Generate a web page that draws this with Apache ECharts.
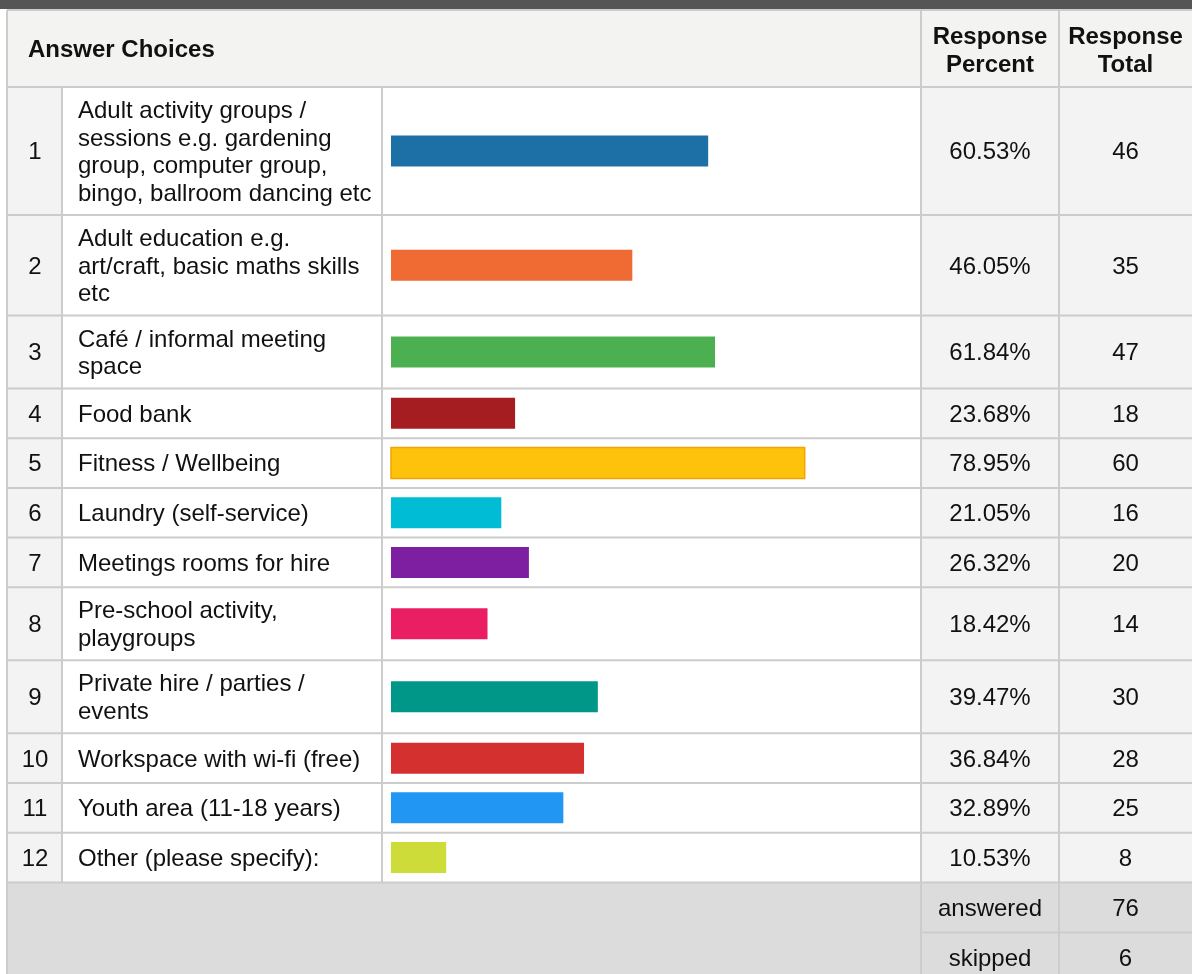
<!DOCTYPE html>
<html>
<head>
<meta charset="utf-8">
<title>Answer Choices</title>
<script src="https://cdn.jsdelivr.net/npm/echarts@6/dist/echarts.min.js"></script>
<style>
  html, body { margin: 0; padding: 0; background: #ffffff; }
  #chart { width: 1192px; height: 974px; }
</style>
</head>
<body>
<div id="chart"></div>
<script>
// ---- data ----
const choices = [
  'Adult activity groups /\nsessions e.g. gardening\ngroup, computer group,\nbingo, ballroom dancing etc',
  'Adult education e.g.\nart/craft, basic maths skills\netc',
  'Café / informal meeting\nspace',
  'Food bank',
  'Fitness / Wellbeing',
  'Laundry (self-service)',
  'Meetings rooms for hire',
  'Pre-school activity,\nplaygroups',
  'Private hire / parties /\nevents',
  'Workspace with wi-fi (free)',
  'Youth area (11-18 years)',
  'Other (please specify):'
];
const responsePercent = [60.53, 46.05, 61.84, 23.68, 78.95, 21.05, 26.32, 18.42, 39.47, 36.84, 32.89, 10.53];
const responseTotal = [46, 35, 47, 18, 60, 16, 20, 14, 30, 28, 25, 8];
const summaryLabels = ['answered', 'skipped'];
const summaryValues = [76, 6];
const headerTitle = 'Answer Choices';
const headerPercent = 'Response\nPercent';
const headerTotal = 'Response\nTotal';

// ---- styling ----
const barColors = ['#1d70a6', '#f06a34', '#4caf50', '#a51d20', '#fdc20a', '#00bcd5',
                   '#7e1fa1', '#ea1e63', '#009688', '#d53030', '#2196f3', '#cddc39'];
const barBorders = [null, null, null, null, '#f4a300', null, null, null, null, null, null, null];
const FONT = '"Liberation Sans", Arial, Helvetica, sans-serif';
const FS = 24;
const LINE_H = 27.5;
const TEXT_DY = 1.8;
const GRID = '#cccccc';
const TEXT = '#111111';

// column borders (left table edge ... right edge)
const COLS = [7, 62, 382, 921, 1059, 1192];
const HEADER_TOP = 10, BODY_TOP = 87;
const FOOT_ROW_H = 50;

// row heights follow the number of wrapped label lines
const rowHeights = choices.map(c => {
  const n = c.split('\n').length;
  return n === 1 ? 49.7 : LINE_H * n + 18;
});
const rowTops = [];
let acc = 0;
rowHeights.forEach(h => { rowTops.push(acc); acc += h; });
const BODY_H = acc;
const FOOT_TOP = BODY_TOP + BODY_H;

function rect(x, y, w, h, fill, z) {
  return { type: 'rect', z: z || 0, silent: true, shape: { x, y, width: w, height: h }, style: { fill } };
}
function line(x1, y1, x2, y2, color, z) {
  return { type: 'line', z: z || 1, silent: true, shape: { x1, y1, x2, y2 }, style: { stroke: color || GRID, lineWidth: 2 } };
}
function text(str, x, y, align, bold) {
  return {
    type: 'text', z: 3, silent: true,
    style: {
      text: str, x, y: y + TEXT_DY, fill: TEXT,
      font: (bold ? 'bold ' : '') + FS + 'px ' + FONT,
      textAlign: align, textVerticalAlign: 'middle', lineHeight: LINE_H
    }
  };
}

const g = [];
// top strip
g.push(rect(0, 0, 1192, 9, '#555555'));
// header
g.push(rect(COLS[0], HEADER_TOP, 1192 - COLS[0], BODY_TOP - HEADER_TOP, '#f3f3f2'));
g.push(line(COLS[0], HEADER_TOP, 1192, HEADER_TOP));
g.push(text(headerTitle, 28, (HEADER_TOP + BODY_TOP) / 2, 'left', true));
g.push(text(headerPercent, (COLS[3] + COLS[4]) / 2, (HEADER_TOP + BODY_TOP) / 2 + 1, 'center', true));
g.push(text(headerTotal, (COLS[4] + COLS[5]) / 2, (HEADER_TOP + BODY_TOP) / 2 + 1, 'center', true));
g.push(line(COLS[3], HEADER_TOP, COLS[3], BODY_TOP));
g.push(line(COLS[4], HEADER_TOP, COLS[4], BODY_TOP));

// body rows
choices.forEach((c, i) => {
  const y0 = BODY_TOP + rowTops[i];
  const h = rowHeights[i];
  const yc = y0 + h / 2;
  g.push(rect(COLS[0], y0, COLS[1] - COLS[0], h, '#f3f3f3'));
  g.push(rect(COLS[1], y0, COLS[3] - COLS[1], h, '#ffffff'));
  g.push(rect(COLS[3], y0, COLS[5] - COLS[3], h, '#f3f3f3'));
  g.push(text(String(i + 1), (COLS[0] + COLS[1]) / 2 + 0.5, yc, 'center', false));
  g.push(text(c, COLS[1] + 16, yc, 'left', false));
  g.push(text(responsePercent[i].toFixed(2) + '%', (COLS[3] + COLS[4]) / 2, yc, 'center', false));
  g.push(text(String(responseTotal[i]), (COLS[4] + COLS[5]) / 2, yc, 'center', false));
  g.push(line(COLS[0], y0, 1192, y0));
});
// footer
g.push(rect(COLS[0], FOOT_TOP, 1192 - COLS[0], 974 - FOOT_TOP, '#dcdcdc'));
g.push(line(COLS[0], FOOT_TOP, 1192, FOOT_TOP));
summaryLabels.forEach((s, k) => {
  const y0 = FOOT_TOP + k * FOOT_ROW_H;
  const yc = y0 + FOOT_ROW_H / 2;
  if (k > 0) g.push(line(COLS[3], y0, 1192, y0));
  g.push(text(s, (COLS[3] + COLS[4]) / 2, yc, 'center', false));
  g.push(text(String(summaryValues[k]), (COLS[4] + COLS[5]) / 2, yc, 'center', false));
});
// vertical rules
g.push(line(COLS[0], HEADER_TOP, COLS[0], 974));
g.push(line(COLS[1], BODY_TOP, COLS[1], FOOT_TOP));
g.push(line(COLS[2], BODY_TOP, COLS[2], FOOT_TOP));
g.push(line(COLS[3], BODY_TOP, COLS[3], 974));
g.push(line(COLS[4], BODY_TOP, COLS[4], 974));

// bar column scale: 0–100 % across the bar cell, y in table-body pixels
const chart = echarts.init(document.getElementById('chart'), null, { renderer: 'canvas' });
chart.setOption({
  animation: false,
  backgroundColor: '#ffffff',
  grid: { left: 391, top: BODY_TOP, width: 524, height: BODY_H },
  xAxis: { type: 'value', min: 0, max: 100, show: false },
  yAxis: { type: 'value', min: 0, max: BODY_H, inverse: true, show: false },
  graphic: { elements: g },
  series: [{
    type: 'custom',
    z: 5,
    data: responsePercent.map((v, i) => [v, i]),
    renderItem: function (params, api) {
      const i = api.value(1);
      const yc = rowTops[i] + rowHeights[i] / 2;
      const p0 = api.coord([0, yc]);
      const p1 = api.coord([api.value(0), yc]);
      const h = 31;
      const border = barBorders[i];
      return {
        type: 'rect',
        shape: { x: p0[0], y: p0[1] - h / 2, width: p1[0] - p0[0], height: h },
        style: {
          fill: barColors[i],
          stroke: border || null,
          lineWidth: border ? 1.5 : 0
        }
      };
    }
  }]
});
</script>
</body>
</html>
